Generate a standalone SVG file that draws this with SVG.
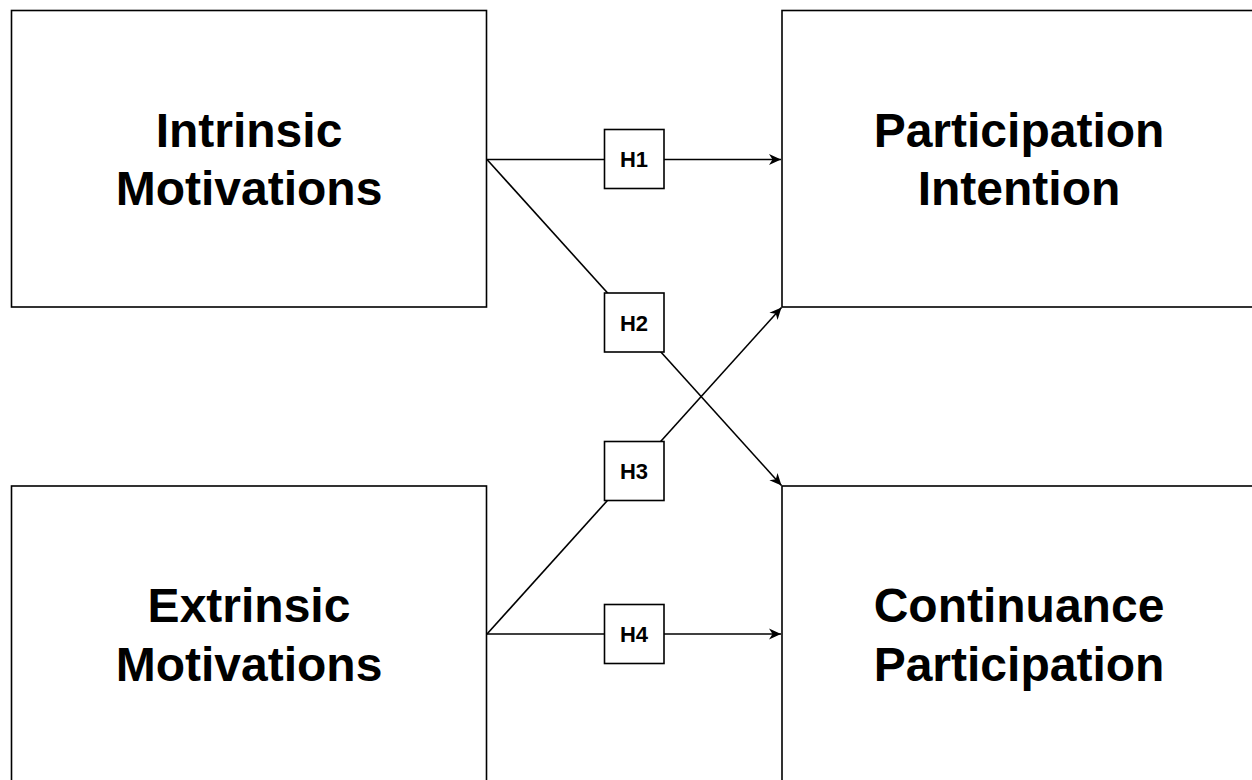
<svg xmlns="http://www.w3.org/2000/svg" width="1252" height="780" viewBox="0 0 1252 780">
  <style>
    .box { fill: #ffffff; stroke: #000000; stroke-width: 1.6; }
    .hbox { fill: #ffffff; stroke: #000000; stroke-width: 1.6; }
    .big { font-family: "Liberation Sans", Arial, sans-serif; font-weight: bold; font-size: 48px; fill: #000000; text-anchor: middle; }
    .small { font-family: "Liberation Sans", Arial, sans-serif; font-weight: bold; font-size: 22px; fill: #000000; text-anchor: middle; }
    .edge { fill: none; stroke: #000000; stroke-width: 1.6; }
  </style>
  <defs>
    <marker id="arrow" markerUnits="userSpaceOnUse" markerWidth="16" markerHeight="16" viewBox="-14 -8 16 16" refX="0" refY="0" orient="auto">
      <path d="M0,0 L-12,-5.5 L-8.5,0 L-12,5.5 Z" fill="#000000"/>
    </marker>
  </defs>
  <rect x="0" y="0" width="1252" height="780" fill="#ffffff"/>

  <g id="intrinsic">
    <rect class="box" x="11.5" y="10.5" width="475" height="296.5"/>
    <text class="big" x="249" y="147">Intrinsic</text>
    <text class="big" x="249" y="205">Motivations</text>
  </g>
  <g id="extrinsic">
    <rect class="box" x="11.5" y="486" width="475" height="310"/>
    <text class="big" x="249" y="622">Extrinsic</text>
    <text class="big" x="249" y="680.5">Motivations</text>
  </g>
  <g id="participation-intention">
    <rect class="box" x="782" y="10.5" width="475" height="296.5"/>
    <text class="big" x="1019" y="147">Participation</text>
    <text class="big" x="1019" y="205">Intention</text>
  </g>
  <g id="continuance-participation">
    <rect class="box" x="782" y="486" width="475" height="310"/>
    <text class="big" x="1019" y="622">Continuance</text>
    <text class="big" x="1019" y="680.5">Participation</text>
  </g>

  <g id="connectors">
    <line class="edge" x1="487" y1="159.5" x2="781" y2="159.5" marker-end="url(#arrow)"/>
    <line class="edge" x1="487" y1="159.5" x2="781.5" y2="485.5" marker-end="url(#arrow)"/>
    <line class="edge" x1="487" y1="634" x2="781.5" y2="307.5" marker-end="url(#arrow)"/>
    <line class="edge" x1="487" y1="634" x2="781" y2="634" marker-end="url(#arrow)"/>
  </g>

  <g id="H1">
    <rect class="hbox" x="604.5" y="129.5" width="59.5" height="59"/>
    <text class="small" x="634" y="167">H1</text>
  </g>
  <g id="H2">
    <rect class="hbox" x="604.5" y="293" width="59.5" height="59"/>
    <text class="small" x="634" y="330.5">H2</text>
  </g>
  <g id="H3">
    <rect class="hbox" x="604.5" y="441.5" width="59.5" height="59"/>
    <text class="small" x="634" y="479">H3</text>
  </g>
  <g id="H4">
    <rect class="hbox" x="604.5" y="604.5" width="59.5" height="59"/>
    <text class="small" x="634" y="642">H4</text>
  </g>
</svg>
